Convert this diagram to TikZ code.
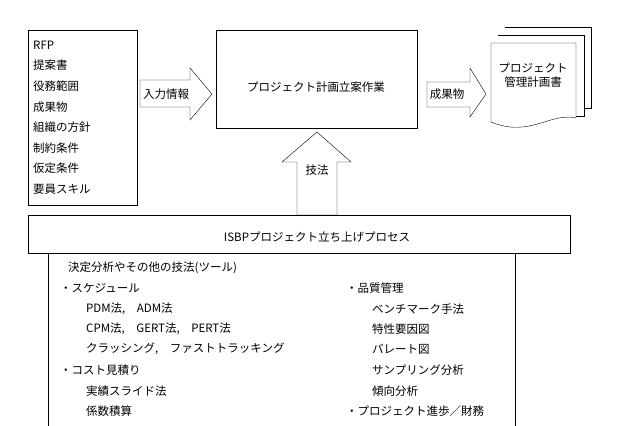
\documentclass[tikz,border=0pt]{standalone}
\usepackage{fontspec}
\setmainfont{Noto Sans CJK JP}
\usetikzlibrary{positioning}
\begin{document}
\begin{tikzpicture}[x=1pt,y=-1pt,font=\fontsize{11.5}{13}\selectfont]

    % Styles
    \tikzstyle{box} = [draw=black, thin, fill=white]
    \tikzstyle{txt} = [anchor=west, inner sep=0pt]
    \tikzstyle{fatarrow} = [draw=black, thin, fill=white]

    \useasboundingbox (0,0) rectangle (633,426);

    % Noeuds
    \draw [box] (28,30) rectangle (137,205);
    \node (rfp) [txt] at (33,45) {RFP};
    \node (teian) [txt] at (33,65.5) {提案書};
    \node (ekimu) [txt] at (33,86) {役務範囲};
    \node (seika) [txt] at (33,107) {成果物};
    \node (soshiki) [txt] at (33,127.5) {組織の方針};
    \node (seiyaku) [txt] at (33,148) {制約条件};
    \node (katei) [txt] at (33,168.5) {仮定条件};
    \node (youin) [txt] at (33,189) {要員スキル};

    \draw [box] (216,30) rectangle (417,128);
    \node (sagyou) at (316,87) {プロジェクト計画立案作業};

    % Documents
    \draw [box] (505,27) -- (591,27) -- (591,108) -- (576,108);
    \draw [box] (498,35) -- (584,35) -- (584,116) -- (576,116);
    \draw [box] (491,43) -- (576,43) -- (576,118) .. controls (550,112) and (530,138) .. (491,122) -- cycle;
    \node (keikaku) [align=center, font=\fontsize{11.5}{14}\selectfont] at (533,75) {プロジェクト\\管理計画書};

    % Fleches
    \draw [fatarrow] (140,80) -- (190,80) -- (190,68) -- (212,94) -- (190,120) -- (190,107) -- (140,107) -- cycle;
    \node (nyuryoku) at (166,94) {入力情報};
    \draw [fatarrow] (427,82) -- (470,82) -- (470,68) -- (486,94) -- (470,117) -- (470,107) -- (427,107) -- cycle;
    \node (seikabutsu) at (447,94) {成果物};
    \draw [fatarrow] (297,215) -- (297,162) -- (282,162) -- (317,132) -- (351,162) -- (337,162) -- (337,215) -- cycle;
    \node (gihou) at (317,170) {技法};

    % Processus
    \draw [box] (28,215) rectangle (570,253);
    \node (isbp) at (317,237) {ISBPプロジェクト立ち上げプロセス};
    \draw [box] (48,426) -- (48,253) -- (515,253) -- (515,426);

    \node (kettei) [txt] at (68,268) {決定分析やその他の技法(ツール)};
    \node (sched) [txt] at (60,288) {・スケジュール};
    \node (pdm) [txt] at (86,309) {PDM法,\quad ADM法};
    \node (cpm) [txt] at (86,329) {CPM法,\quad GERT法,\quad PERT法};
    \node (crash) [txt] at (86,349) {クラッシング,\quad ファストトラッキング};
    \node (cost) [txt] at (60,370) {・コスト見積り};
    \node (jisseki) [txt] at (86,391) {実績スライド法};
    \node (keisu) [txt] at (86,411) {係数積算};

    \node (hinshitsu) [txt] at (346,288) {・品質管理};
    \node (bench) [txt] at (372,309) {ベンチマーク手法};
    \node (tokusei) [txt] at (372,329) {特性要因図};
    \node (pareto) [txt] at (372,349) {パレート図};
    \node (sampling) [txt] at (372,370) {サンプリング分析};
    \node (keikou) [txt] at (372,391) {傾向分析};
    \node (shinpo) [txt] at (346,411) {・プロジェクト進歩／財務};

\end{tikzpicture}
\end{document}
